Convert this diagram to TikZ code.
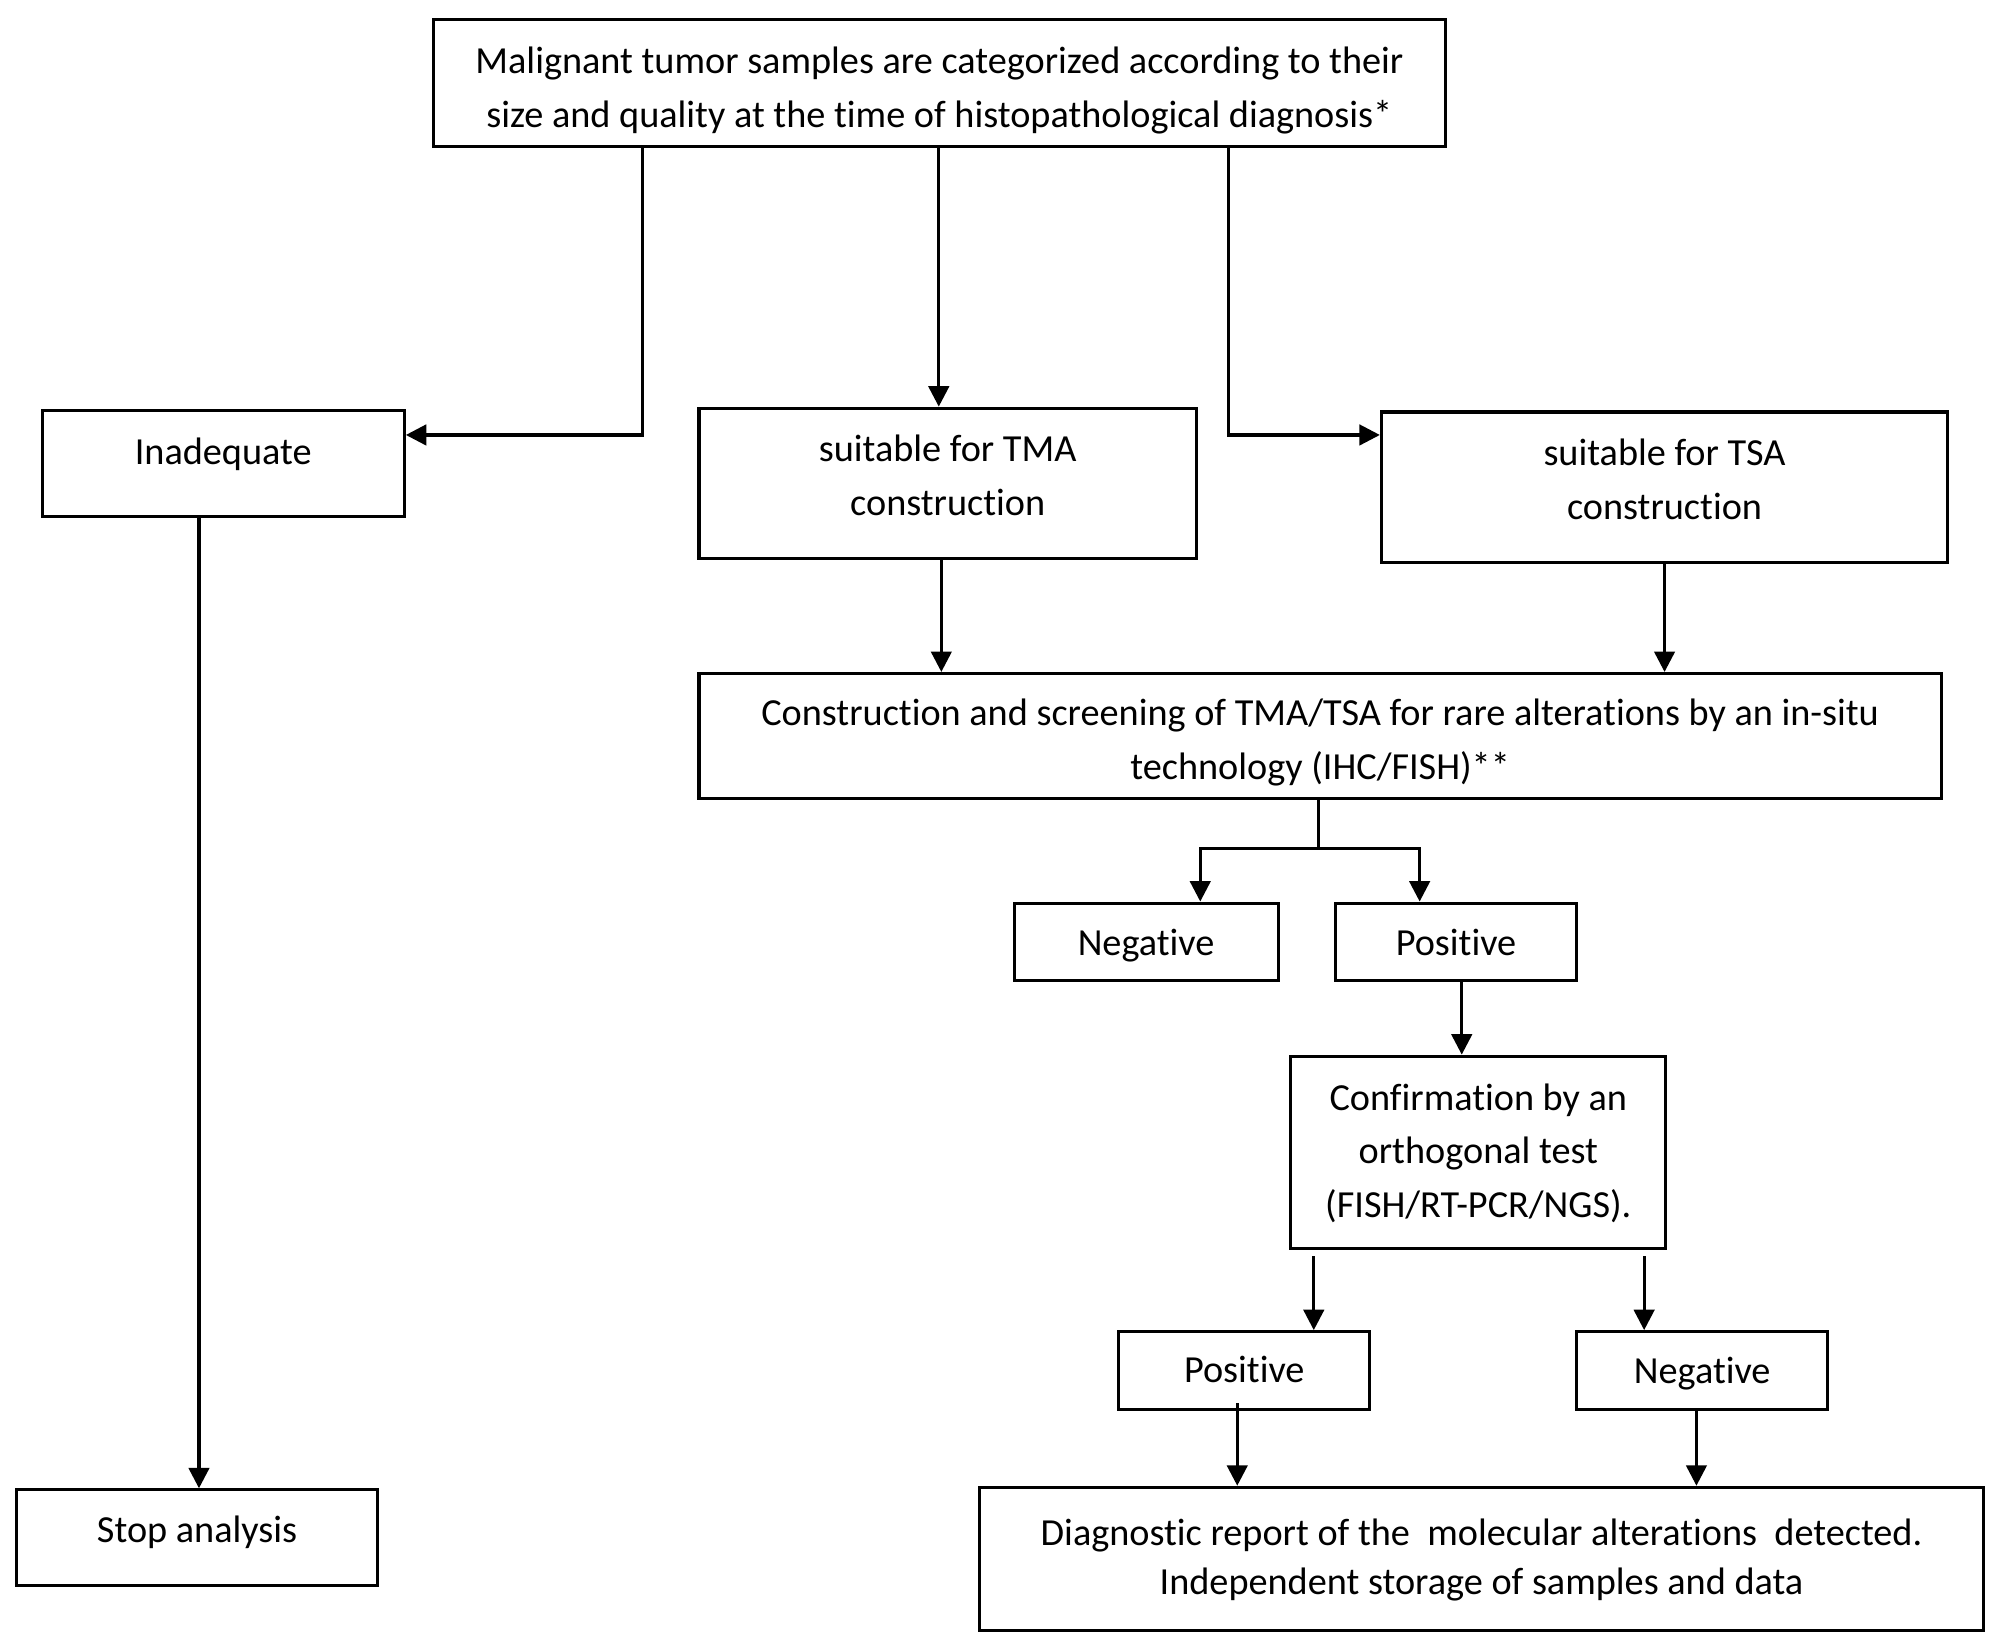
\documentclass[tikz,border=0pt]{standalone}
\usepackage{fontspec}
\setmainfont{Carlito}[Ligatures=NoCommon]
\usetikzlibrary{arrows.meta}
\tikzset{
  box/.style={draw=black, line width=2.4pt, inner sep=0pt, fill=none},
  txt/.style={inner sep=0pt, align=center, font=\fontsize{30}{42}\selectfont},
  conn/.style={line width=2.5pt, draw=black},
  arr/.style={conn, -{Triangle[length=16pt,width=16pt]}},
}
\begin{document}
\begin{tikzpicture}[x=1pt,y=-1pt]
\useasboundingbox[fill=white] (0,0) rectangle (1568,1294);
% boxes
\node[box, minimum width=793pt, minimum height=100pt] (topB) at (736.5,65) {};
\node[txt] (topT) at (736.5,71) {Malignant tumor samples are categorized according to their\\size and quality at the time of histopathological diagnosis*};
\node[box, minimum width=284pt, minimum height=83pt] (inadB) at (175,363.5) {};
\node[txt] (inadT) at (175,356) {Inadequate};
\node[box, minimum width=390pt, minimum height=118pt] (tmaB) at (743,379) {};
\node[txt] (tmaT) at (743,372.5) {suitable for TMA\\construction};
\node[box, minimum width=444pt, minimum height=118pt] (tsaB) at (1305,382) {};
\node[txt] (tsaT) at (1305,376) {suitable for TSA\\construction};
\node[box, minimum width=974pt, minimum height=98pt] (conB) at (1035,577) {};
\node[txt] (conT) at (1035,582) {Construction and screening of TMA/TSA for rare alterations by an in-situ\\technology (IHC/FISH)**};
\node[box, minimum width=207pt, minimum height=61pt] (neg1B) at (898.5,738.5) {};
\node[txt] (neg1T) at (898.5,741) {Negative};
\node[box, minimum width=189pt, minimum height=61pt] (pos1B) at (1141.5,738.5) {};
\node[txt] (pos1T) at (1141.5,739) {Positive};
\node[box, minimum width=294pt, minimum height=151pt] (confB) at (1159,903.5) {};
\node[txt] (confT) at (1159,904) {Confirmation by an\\orthogonal test\\(FISH/RT-PCR/NGS).};
\node[box, minimum width=197pt, minimum height=61pt] (pos2B) at (975.5,1074.5) {};
\node[txt] (pos2T) at (975.5,1074) {Positive};
\node[box, minimum width=197pt, minimum height=61pt] (neg2B) at (1334.5,1074.5) {};
\node[txt] (neg2T) at (1334.5,1077) {Negative};
\node[box, minimum width=787pt, minimum height=112pt] (diagB) at (1161.5,1222) {};
\node[txt, font=\fontsize{30}{38}\selectfont] (diagT) at (1161.5,1223) {Diagnostic report of the\ \ molecular alterations\ \ detected.\\Independent storage of samples and data};
\node[box, minimum width=283pt, minimum height=75pt] (stopB) at (154.5,1205.5) {};
\node[txt] (stopT) at (154.5,1201) {Stop analysis};
% connectors
\coordinate (j1) at (504,341);
\draw[arr] (topB.south -| j1) |- (inadB.east |- j1);
\coordinate (j2) at (736,0);
\draw[arr] (topB.south -| j2) -- (tmaB.north -| j2);
\coordinate (j3) at (963,341);
\draw[arr] (topB.south -| j3) |- (tsaB.west |- j3);
\coordinate (j4) at (156,0);
\draw[arr] (inadB.south -| j4) -- (stopB.north -| j4);
\coordinate (j5) at (738,0);
\draw[arr] (tmaB.south -| j5) -- (conB.north -| j5);
\coordinate (j6) at (1305,0);
\draw[arr] (tsaB.south -| j6) -- (conB.north -| j6);
\coordinate (j7) at (1034,665);
\coordinate (j8) at (941,665);
\coordinate (j9) at (1113,665);
\draw[conn] (conB.south -| j7) -- (j7);
\draw[arr] (j7) -- (j8) -- (neg1B.north -| j8);
\draw[arr] (j7) -- (j9) -- (pos1B.north -| j9);
\coordinate (j10) at (1146,0);
\draw[arr] (pos1B.south -| j10) -- (confB.north -| j10);
\coordinate (j11) at (1030,985);
\draw[arr] (j11) -- (pos2B.north -| j11);
\coordinate (j12) at (1289,985);
\draw[arr] (j12) -- (neg2B.north -| j12);
\coordinate (j13) at (970,1100);
\draw[arr] (j13) -- (diagB.north -| j13);
\coordinate (j14) at (1330,0);
\draw[arr] (neg2B.south -| j14) -- (diagB.north -| j14);
\end{tikzpicture}
\end{document}
